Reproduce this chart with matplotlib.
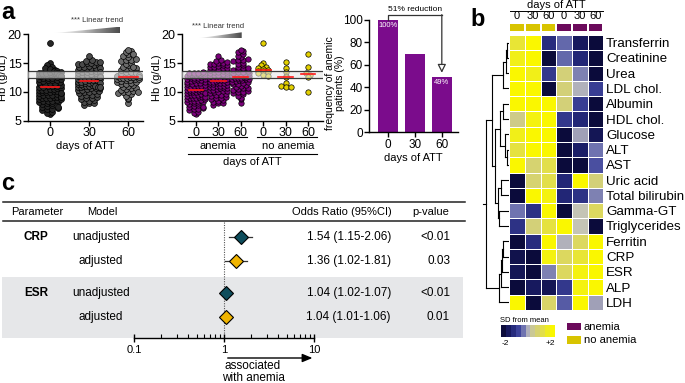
import numpy as np
import matplotlib
matplotlib.use("Agg")
import matplotlib.pyplot as plt
from matplotlib.colors import LinearSegmentedColormap, ListedColormap
from matplotlib.patches import Rectangle, Polygon
from matplotlib.lines import Line2D
import matplotlib.transforms as mtransforms

plt.rcParams['font.family'] = ['Liberation Sans', 'DejaVu Sans']
NARROW = ['Liberation Sans Narrow', 'Liberation Sans', 'DejaVu Sans']

# ---------------- data ----------------
days = ['0', '30', '60']
hb_anemia_d0 = [6.1, 6.4, 6.5, 6.8, 7.0, 7.0, 7.2, 7.4, 7.5, 7.7, 7.9, 8.0, 8.1, 8.2, 8.3, 8.4,
                8.5, 8.5, 8.6, 8.8, 8.9, 9.0, 9.0, 9.1, 9.2, 9.3, 9.4, 9.5, 9.5, 9.6, 9.7, 9.8,
                9.9, 10.0, 10.0, 10.1, 10.2, 10.3, 10.3, 10.4, 10.5, 10.5, 10.6, 10.7, 10.8,
                10.9, 11.0, 11.0, 11.1, 11.2, 11.3, 11.4, 11.5, 11.6, 11.7, 11.8, 11.9, 12.0,
                12.0, 12.1, 12.2, 12.3, 12.4, 12.5, 12.5, 12.6, 12.7, 12.8, 12.8, 12.9, 13.0,
                13.0, 13.1, 13.1, 13.2, 13.2, 13.3, 13.3, 13.3, 13.4, 8.7, 9.2, 7.3, 9.8]
hb_anemia_d30 = [7.8, 8.0, 8.1, 8.3, 8.5, 8.6, 8.8, 8.9, 9.0, 9.1, 9.3, 9.4, 9.5, 9.6, 9.8,
                 9.9, 10.0, 10.1, 10.2, 10.3, 10.4, 10.5, 10.6, 10.6, 10.7, 10.8, 10.9, 11.0,
                 11.0, 11.1, 11.2, 11.3, 11.4, 11.5, 11.5, 11.6, 11.7, 11.8, 11.8, 11.9, 12.0,
                 12.0, 12.1, 12.2, 12.3, 12.4, 12.5, 12.5, 12.6, 12.7, 12.8, 12.9, 13.0, 13.1,
                 13.2, 13.3, 13.4, 13.5, 13.6, 13.7, 13.8, 13.9, 14.0, 14.1, 14.2, 14.3, 14.4,
                 14.5, 14.6, 14.7, 14.8, 14.9, 15.0, 15.1, 15.2, 15.3, 15.5, 16.2]
hb_anemia_d60 = [8.0, 8.7, 9.0, 9.3, 9.6, 9.8, 9.9, 10.0, 10.1, 10.3, 10.5, 10.6, 10.7, 10.9,
                 11.0, 11.2, 11.3, 11.4, 11.5, 11.7, 11.8, 11.9, 12.0, 12.1, 12.2, 12.2, 12.3,
                 12.4, 12.4, 12.5, 12.6, 12.6, 12.7, 12.8, 12.9, 13.0, 13.1, 13.2, 13.3, 13.4,
                 13.5, 13.6, 13.8, 14.0, 14.1, 14.2, 14.4, 14.6, 14.8, 15.0, 15.3, 15.5, 15.6,
                 15.7, 16.0, 16.3, 16.6, 16.9, 17.1, 17.3]
hb_noanemia_d0 = [18.5, 15.0, 14.7, 14.4, 14.2, 14.0, 13.8, 13.7, 13.6, 13.4, 13.2, 13.0, 12.8]
hb_noanemia_d30 = [15.2, 14.2, 13.4, 12.8, 12.6, 11.6, 11.1, 10.8, 10.9]
hb_noanemia_d60 = [16.6, 14.4, 13.2, 12.9, 12.6, 10.0]
ref_low, ref_high = 12.5, 13.7

anemic_freq = [100, 70, 49]
anemic_labels = ['100%', '', '49%']
reduction_label = '51% reduction'

heat_params = ['Transferrin', 'Creatinine', 'Urea', 'LDL chol.', 'Albumin', 'HDL chol.',
               'Glucose', 'ALT', 'AST', 'Uric acid', 'Total bilirubin', 'Gamma-GT',
               'Triglycerides', 'Ferritin', 'CRP', 'ESR', 'ALP', 'LDH']
heat_cols = ['0', '30', '60', '0', '30', '60']
heat_groups = ['no anemia', 'no anemia', 'no anemia', 'anemia', 'anemia', 'anemia']
heat_rows = [
    [1.4, 2.0, -1.2, -0.5, -1.6, -2.0],
    [1.7, 2.0, -2.0, -0.5, -1.3, -2.0],
    [2.0, 1.7, -1.0, 0.7, -0.3, -2.0],
    [2.0, 2.0, -2.0, 0.7, 0.0, -0.9],
    [2.0, 2.0, 2.0, 0.7, -0.9, -2.0],
    [0.5, 1.8, 2.0, -1.0, -1.3, -2.0],
    [1.7, 2.0, 2.0, -2.0, -0.1, -1.7],
    [1.3, 2.0, 2.0, -2.0, -1.5, -0.4],
    [2.0, 0.8, 1.2, -2.0, -2.0, -0.7],
    [-2.0, 0.8, 1.2, -1.3, 2.0, 0.7],
    [-2.0, 2.0, 1.8, -1.3, -1.1, -0.3],
    [-0.4, -1.1, 2.0, -2.0, 0.2, 1.0],
    [-1.1, 0.7, 1.3, 2.0, 0.2, -2.0],
    [-2.0, -1.2, 2.0, 0.0, 1.0, 2.0],
    [-1.8, -2.0, 1.8, 1.0, 1.4, 2.0],
    [-1.7, -2.0, -0.3, 1.0, 1.8, 2.0],
    [-2.0, -1.6, -1.7, -1.0, 1.8, 2.0],
    [2.0, -2.0, 0.9, -0.6, 2.0, -0.1],
]
# hierarchical clustering merges: (child a, child b, height); ids >= 18 are earlier merges
dendro_merges = [
    (0, 1, 0.10), (18, 2, 0.14), (19, 3, 0.26),
    (4, 5, 0.26), (7, 8, 0.10), (6, 22, 0.18), (21, 23, 0.39),
    (9, 10, 0.35), (11, 12, 0.45), (25, 26, 0.50),
    (24, 27, 0.60), (20, 28, 0.73),
    (13, 14, 0.25), (30, 15, 0.30), (31, 16, 0.36), (32, 17, 0.45),
    (29, 33, 1.00),
]

forest_params = ['CRP', '', 'ESR', '']
forest_models = ['unadjusted', 'adjusted', 'unadjusted', 'adjusted']
forest_or = [1.54, 1.36, 1.04, 1.04]
forest_lo = [1.15, 1.02, 1.02, 1.01]
forest_hi = [2.06, 1.81, 1.07, 1.06]
forest_p = ['<0.01', '0.03', '<0.01', '0.01']

# ---------------- figure helpers ----------------
W, H = 685, 383
fig = plt.figure(figsize=(W / 100, H / 100), dpi=100)


def add_ax(x0, y0, x1, y1, **kw):
    return fig.add_axes([x0 / W, 1 - y1 / H, (x1 - x0) / W, (y1 - y0) / H], **kw)


def px_line(xs, ys, **kw):
    fig.add_artist(Line2D([x / W for x in xs], [1 - y / H for y in ys],
                          transform=fig.transFigure, **kw))


def px_rect(x0, y0, x1, y1, **kw):
    r = Rectangle((x0 / W, 1 - y1 / H), (x1 - x0) / W, (y1 - y0) / H,
                  transform=fig.transFigure, **kw)
    fig.add_artist(r)
    return r


def px_text(x, y, s, **kw):
    return fig.text(x / W, 1 - y / H, s, **kw)


def swarm_x(vals, center, dx, maxw, binw):
    vals = np.asarray(vals, float)
    bins = np.round(vals / binw).astype(int)
    xs = np.zeros_like(vals)
    for b in np.unique(bins):
        idx = np.where(bins == b)[0]
        n = len(idx)
        step = min(dx, 2 * maxw / (n - 1)) if n > 1 else 0
        offs = (np.arange(n) - (n - 1) / 2) * step
        xs[idx] = center + offs
    return xs


def style_axis(ax, size=9):
    for s in ['top', 'right']:
        ax.spines[s].set_visible(False)
    for s in ['left', 'bottom']:
        ax.spines[s].set_linewidth(1.0)
    ax.tick_params(direction='out', length=3.5, width=1.0, labelsize=size, pad=1.0)


def narrow_ticks(ax):
    for lab in ax.get_xticklabels() + ax.get_yticklabels():
        lab.set_family(NARROW)


def trend_wedge(x0, x1, y0, y1, tx, ty):
    wax = add_ax(x0, y0, x1, y1)
    wax.set_axis_off()
    grad = np.linspace(0.03, 0.78, 200)[None, :]
    im = wax.imshow(grad, cmap='Greys', vmin=0, vmax=1, aspect='auto',
                    extent=[0, 1, 0, 1], origin='lower')
    tri = Polygon([[0, 0], [1, 1], [1, 0]], closed=True, transform=wax.transAxes,
                  facecolor='none', edgecolor='none')
    wax.add_patch(tri)
    im.set_clip_path(tri)
    wax.set_xlim(0, 1)
    wax.set_ylim(0, 1)
    px_text(tx, ty, '*** Linear trend', fontsize=5.5, color='#333333', ha='center',
            va='center', family=NARROW)


# ---------------- panel a1 ----------------
ax1 = add_ax(28, 34.3, 143, 120.7)
style_axis(ax1)
groups_a1 = [hb_anemia_d0 + hb_noanemia_d0,
             hb_anemia_d30 + hb_noanemia_d30,
             hb_anemia_d60 + hb_noanemia_d60]
a1_colors = ['#262626', '#4a4a4a', '#6c6c6c']
for i, vals in enumerate(groups_a1):
    xs = swarm_x(vals, i, dx=0.13, maxw=0.29, binw=0.5)
    ax1.scatter(xs, vals, s=18, c=a1_colors[i], edgecolors='black', linewidths=0.5, zorder=3)
    med = np.median(vals)
    ax1.plot([i - 0.24, i + 0.24], [med, med], color='#ff1a1a', lw=1.2, zorder=6)
ax1.axhspan(ref_low, ref_high, color='#e6e6e6', alpha=0.6, lw=0, zorder=4)
for v in (ref_low, ref_high):
    ax1.axhline(v, color='#3a3a3a', lw=0.9, zorder=5)
ax1.set_xlim(-0.56, 2.38)
ax1.set_ylim(5, 20)
ax1.set_yticks([5, 10, 15, 20])
ax1.set_xticks([0, 1, 2])
ax1.set_xticklabels(days)
narrow_ticks(ax1)
ax1.set_ylabel('Hb (g/dL)', fontsize=8, family=NARROW)
ax1.yaxis.set_label_coords((8.5 - 28) / 115, 0.5)
ax1.set_xlabel('days of ATT', fontsize=8, labelpad=1.5, family=NARROW)
trend_wedge(51.7, 120, 26.7, 33.3, 96.7, 20.7)

# ---------------- panel a2 ----------------
ax2 = add_ax(182, 34.3, 323, 120.7)
style_axis(ax2)
groups_a2 = [hb_anemia_d0, hb_anemia_d30, hb_anemia_d60,
             hb_noanemia_d0, hb_noanemia_d30, hb_noanemia_d60]
a2_colors = ['#7b007b'] * 3 + ['#e3d000'] * 3
for i, vals in enumerate(groups_a2):
    xs = swarm_x(vals, i, dx=0.22, maxw=0.38, binw=0.5)
    ax2.scatter(xs, vals, s=15, c=a2_colors[i], edgecolors='black', linewidths=0.5, zorder=3)
    med = np.median(vals)
    ax2.plot([i - 0.33, i + 0.33], [med, med], color='#ff1a1a', lw=1.2, zorder=6)
ax2.axhspan(ref_low, ref_high, color='#e6e6e6', alpha=0.6, lw=0, zorder=4)
for v in (ref_low, ref_high):
    ax2.axhline(v, color='#3a3a3a', lw=0.9, zorder=5)
ax2.set_xlim(-0.625, 5.67)
ax2.set_ylim(5, 20)
ax2.set_yticks([5, 10, 15, 20])
ax2.set_xticks(range(6))
ax2.set_xticklabels(days + days)
narrow_ticks(ax2)
ax2.set_ylabel('Hb (g/dL)', fontsize=8, family=NARROW)
ax2.yaxis.set_label_coords((162.5 - 182) / 141, 0.5)
trend_wedge(196, 241.7, 32.3, 38.5, 218, 26.7)
px_line([188, 247], [136.7, 136.7], color='black', lw=0.8)
px_line([256.7, 316.7], [136.7, 136.7], color='black', lw=0.8)
px_line([188, 316.7], [154, 154], color='black', lw=0.8)
px_text(218, 145.7, 'anemia', fontsize=8, ha='center', va='center', family=NARROW)
px_text(287.7, 145.7, 'no anemia', fontsize=8, ha='center', va='center', family=NARROW)
px_text(252.7, 162.5, 'days of ATT', fontsize=8, ha='center', va='center', family=NARROW)

# ---------------- panel a3 ----------------
ax3 = add_ax(369, 20, 458, 132.3)
style_axis(ax3, size=8.5)
ax3.bar(range(3), anemic_freq, width=0.72, color='#7b0c8c', zorder=2)
for i, (v, lab) in enumerate(zip(anemic_freq, anemic_labels)):
    if lab:
        ax3.text(i, v - 5, lab, color='white', fontsize=5.5, ha='center', va='center',
                 family=NARROW)
ax3.set_xlim(-0.7, 2.6)
ax3.set_ylim(0, 100)
ax3.set_yticks(range(0, 101, 20))
ax3.set_xticks([0, 1, 2])
ax3.set_xticklabels(days)
narrow_ticks(ax3)
ax3.set_xlabel('days of ATT', fontsize=8, labelpad=1.5, family=NARROW)
ax3.set_ylabel('frequency of anemic\npatients (%)', fontsize=7.5, linespacing=1.0,
               family=NARROW)
ax3.yaxis.set_label_coords((345 - 369) / 89, 0.44)
ax3.plot([0, 0, 2], [anemic_freq[0], 104.5, 104.5], color='#333333', lw=0.9, clip_on=False)
ax3.annotate('', xy=(2, anemic_freq[2] + 4), xytext=(2, 104.8), annotation_clip=False,
             arrowprops=dict(arrowstyle='-|>,head_length=0.5,head_width=0.25',
                             color='#333333', lw=0.9, fc='white', shrinkA=0, shrinkB=0))
ax3.text(1, 109.5, reduction_label, fontsize=6, ha='center', va='center', clip_on=False,
         family=NARROW)

# ---------------- panel b (heatmap) ----------------
cmap = LinearSegmentedColormap.from_list('sd', [
    (0.0, '#0b0b3b'), (0.15, '#1d2170'), (0.3, '#3d439a'), (0.4, '#6f73b0'),
    (0.47, '#9d9db6'), (0.53, '#c2c2c0'), (0.62, '#cdca8a'), (0.75, '#dcd860'),
    (0.9, '#eeec20'), (1.0, '#faf700')])
axh = add_ax(509.3, 35, 603.3, 310)
axh.pcolormesh(np.array(heat_rows), cmap=cmap, vmin=-2, vmax=2,
               edgecolors='white', linewidth=0.4)
axh.set_xlim(0, len(heat_cols))
axh.set_ylim(len(heat_params), 0)
for s in axh.spines.values():
    s.set_visible(False)
axh.set_xticks([])
axh.set_yticks(np.arange(len(heat_params)) + 0.5)
axh.set_yticklabels(heat_params)
axh.yaxis.tick_right()
axh.tick_params(axis='y', length=0, pad=2, labelsize=9.6)

group_colors = {'no anemia': '#d8c400', 'anemia': '#6b0a5b'}
axg = add_ax(509.3, 22.7, 603.3, 31.7)
gcodes = [[0 if g == 'no anemia' else 1 for g in heat_groups]]
axg.pcolormesh(np.array(gcodes), cmap=ListedColormap([group_colors['no anemia'],
                                                      group_colors['anemia']]),
               vmin=0, vmax=1, edgecolors='white', linewidth=1.2)
for s in axg.spines.values():
    s.set_visible(False)
axg.set_xlim(0, 6)
axg.set_ylim(0, 1)
axg.set_yticks([])
axg.set_xticks(np.arange(6) + 0.5)
axg.set_xticklabels(heat_cols)
axg.xaxis.tick_top()
axg.tick_params(axis='x', length=0, pad=1.5, labelsize=8)
px_text(556.5, 5.0, 'days of ATT', fontsize=8, ha='center', va='center')
px_line([510, 603], [11, 11], color='black', lw=0.7)

# dendrogram
axd = add_ax(481, 35, 509.3, 310)
axd.set_axis_off()
axd.set_xlim(1.2, 0)
axd.set_ylim(len(heat_params), 0)
n_leaf = len(heat_params)
pos = {i: i + 0.5 for i in range(n_leaf)}
hgt = {i: 0.0 for i in range(n_leaf)}
for k, (a, b, h) in enumerate(dendro_merges):
    nid = n_leaf + k
    for c in (a, b):
        axd.plot([hgt[c], h], [pos[c], pos[c]], color='black', lw=0.8)
    axd.plot([h, h], [pos[a], pos[b]], color='black', lw=0.8)
    pos[nid] = (pos[a] + pos[b]) / 2
    hgt[nid] = h
root = n_leaf + len(dendro_merges) - 1
axd.plot([hgt[root], hgt[root] + 0.12], [pos[root], pos[root]], color='black', lw=0.8,
         clip_on=False)

# colour scale
axc = add_ax(501, 325, 554.3, 337.3)
axc.imshow(np.linspace(-2, 2, 11)[None, :], cmap=cmap.resampled(11), vmin=-2, vmax=2,
           aspect='auto')
axc.set_axis_off()
px_text(500, 320.5, 'SD from mean', fontsize=5.5, ha='left', va='center')
px_text(505, 343.5, '-2', fontsize=6, ha='center', va='center')
px_text(550, 343.5, '+2', fontsize=6, ha='center', va='center')
px_rect(566.7, 322.7, 580.7, 330.3, facecolor=group_colors['anemia'], edgecolor='none')
px_rect(566.7, 336.3, 580.7, 344, facecolor=group_colors['no anemia'], edgecolor='none')
px_text(584, 326.5, 'anemia', fontsize=8, ha='left', va='center')
px_text(584, 340.3, 'no anemia', fontsize=8, ha='left', va='center')

# ---------------- panel c (forest plot) ----------------
row_y = [237 + 24 * (i % 2) + 56 * (i // 2) for i in range(len(forest_models))]
px_rect(2, 277, 463, 338, facecolor='#e6e7e9', edgecolor='none', zorder=-1)
px_line([3, 465], [202, 202], color='#222222', lw=1.1)
px_line([3, 465], [221.5, 221.5], color='#222222', lw=1.1)
px_text(10.7, 211.5, 'Parameter', fontsize=8, ha='left', va='center')
px_text(87, 211.5, 'Model', fontsize=8, ha='left', va='center')
px_text(392, 211.5, 'Odds Ratio (95%CI)', fontsize=8, ha='right', va='center')
px_text(449.5, 211.5, 'p-value', fontsize=8, ha='right', va='center')

axf = add_ax(134, 221.5, 314, 338)
axf.patch.set_alpha(0)
axf.set_xscale('log')
axf.set_xlim(0.1, 10)
axf.set_ylim(338, 221.5)
for s in ['top', 'right', 'left']:
    axf.spines[s].set_visible(False)
axf.spines['bottom'].set_linewidth(1.0)
axf.set_yticks([])
axf.set_xticks([0.1, 1, 10])
axf.set_xticklabels(['0.1', '1', '10'])
axf.tick_params(axis='x', which='major', direction='inout', length=6, width=1.0,
                labelsize=8, pad=2)
axf.tick_params(axis='x', which='minor', direction='in', length=3, width=0.8)
axf.axvline(1, color='#555555', lw=0.8, ls=(0, (1, 1.2)), zorder=1)
model_colors = {'unadjusted': '#0e4d5c', 'adjusted': '#f0b400'}
for y, m, o, lo, hi in zip(row_y, forest_models, forest_or, forest_lo, forest_hi):
    axf.plot([lo, hi], [y, y], color='#333333', lw=0.9, zorder=2)
    axf.plot([o], [y], marker='D', ms=7.5, mfc=model_colors[m], mec='black', mew=0.8,
             zorder=3, clip_on=False)
for y, p, m, o, lo, hi, pv in zip(row_y, forest_params, forest_models, forest_or,
                                  forest_lo, forest_hi, forest_p):
    if p:
        px_text(36, y, p, fontsize=8.5, fontweight='bold', ha='center', va='center')
    px_text(101, y, m, fontsize=8.5, ha='center', va='center')
    px_text(391, y, f'{o:.2f} ({lo:.2f}-{hi:.2f})', fontsize=8.5, ha='right', va='center')
    px_text(450, y, pv, fontsize=8.5, ha='right', va='center')
blend = mtransforms.blended_transform_factory(axf.transData, fig.transFigure)
axf.annotate('', xy=(9.6, 1 - 358 / H), xytext=(1.1, 1 - 358 / H),
             xycoords=blend, textcoords=blend, annotation_clip=False,
             arrowprops=dict(arrowstyle='-|>,head_length=0.6,head_width=0.25',
                             color='black', lw=1.0, shrinkA=0, shrinkB=0))
px_text(253, 372, 'associated\nwith anemia', fontsize=8.5, ha='center', va='center',
        linespacing=0.95)

# ---------------- panel letters ----------------
px_text(1, 1, 'a', fontsize=17, fontweight='bold', ha='left', va='top')
px_text(470, 8, 'b', fontsize=17, fontweight='bold', ha='left', va='top')
px_text(1, 172, 'c', fontsize=17, fontweight='bold', ha='left', va='top')

fig.savefig('out.png', dpi=100)
